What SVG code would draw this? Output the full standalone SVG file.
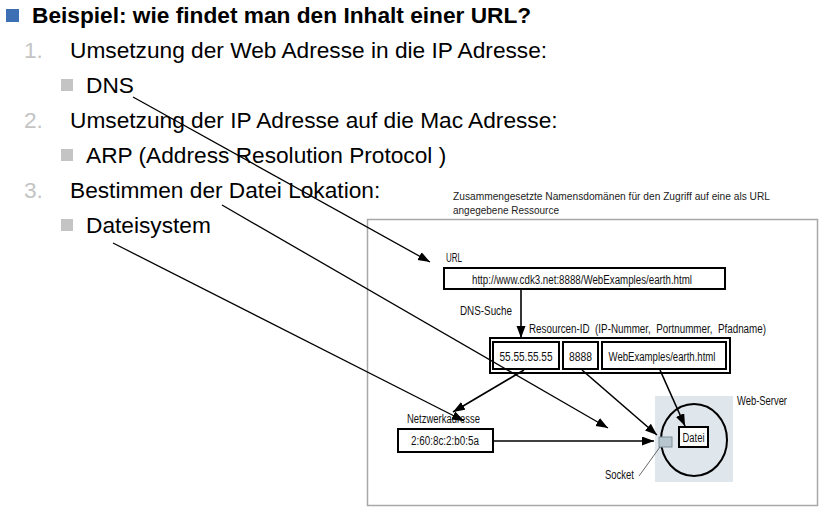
<svg xmlns="http://www.w3.org/2000/svg" width="824" height="512" viewBox="0 0 824 512">
<style>
.body{font-family:"Liberation Sans",Arial,sans-serif;font-size:22.7px;fill:#000}
.title{font-family:"Liberation Sans",Arial,sans-serif;font-size:22.7px;font-weight:bold;fill:#000}
.num{font-family:"Liberation Sans",Arial,sans-serif;font-size:22.7px;fill:#c4c4c4}
.bul{fill:#c4c4c4}
.d{font-family:"Liberation Sans",Arial,sans-serif;font-size:12px;fill:#111}
.dc{font-family:"Liberation Sans",Arial,sans-serif;font-size:10.5px;fill:#222}
.box{fill:#fff;stroke:#000;stroke-width:2}
.conn{stroke:#000;stroke-width:1.6;fill:none}
.ov{stroke:#000;stroke-width:1.3;fill:none}
</style>
<defs>
<marker id="ah" markerUnits="userSpaceOnUse" markerWidth="13" markerHeight="10" refX="12" refY="4.5" orient="auto">
<path d="M0,0 L12,4.5 L0,9 z" fill="#000"/>
</marker>
</defs>
<rect width="824" height="512" fill="#fff"/>

<g id="slide-text">
<rect x="6" y="9" width="13" height="13" fill="#3d6fb4"/>
<text class="title" x="32" y="22.5">Beispiel: wie findet man den Inhalt einer URL?</text>
<text class="num" x="24" y="57.7">1.</text>
<text class="body" x="70" y="57.7">Umsetzung der Web Adresse in die IP Adresse:</text>
<rect class="bul" x="61" y="79" width="12" height="12"/>
<text class="body" x="86" y="92.8">DNS</text>
<text class="num" x="24" y="128">2.</text>
<text class="body" x="70" y="128">Umsetzung der IP Adresse auf die Mac Adresse:</text>
<rect class="bul" x="61" y="149" width="12" height="12"/>
<text class="body" x="86" y="163.1">ARP (Address Resolution Protocol )</text>
<text class="num" x="24" y="198.3">3.</text>
<text class="body" x="70" y="198.3">Bestimmen der Datei Lokation:</text>
<rect class="bul" x="61" y="219" width="12" height="12"/>
<text class="body" x="86" y="233.4">Dateisystem</text>
</g>

<g id="figure-caption">
<text class="dc" x="453" y="200" textLength="317" lengthAdjust="spacingAndGlyphs">Zusammengesetzte Namensdomänen für den Zugriff auf eine als URL</text>
<text class="dc" x="453" y="214" textLength="106" lengthAdjust="spacingAndGlyphs">angegebene Ressource</text>
</g>

<g id="frame">
<rect x="367.5" y="219.5" width="450" height="286" fill="none" stroke="#a8a8a8" stroke-width="1.5"/>
</g>

<g id="webserver">
<rect x="655" y="396" width="78" height="86" fill="#dfe6ec"/>
<ellipse cx="694" cy="440" rx="33" ry="36" fill="none" stroke="#000" stroke-width="2"/>
<text class="d" x="737" y="405" textLength="50" lengthAdjust="spacingAndGlyphs">Web-Server</text>
</g>

<g id="datei">
<rect class="box" x="679" y="427" width="29" height="20"/>
<text class="d" x="693.5" y="441.5" text-anchor="middle" textLength="22" lengthAdjust="spacingAndGlyphs">Datei</text>
</g>

<g id="socket">
<rect x="659" y="437" width="13" height="10" fill="#b8c6cf" stroke="#7f8f98" stroke-width="1"/>
<line x1="639" y1="476" x2="660" y2="447" stroke="#444" stroke-width="0.8"/>
<text class="d" x="605" y="479" textLength="29" lengthAdjust="spacingAndGlyphs">Socket</text>
</g>

<g id="url">
<text class="d" x="446" y="262" textLength="16" lengthAdjust="spacingAndGlyphs">URL</text>
<rect class="box" x="444" y="268" width="281" height="21"/>
<text class="d" x="582" y="283.5" text-anchor="middle" textLength="220" lengthAdjust="spacingAndGlyphs">http://www.cdk3.net:8888/WebExamples/earth.html</text>
</g>

<g id="dns-label">
<text class="d" x="460" y="315" textLength="52" lengthAdjust="spacingAndGlyphs">DNS-Suche</text>
</g>

<g id="resource-id">
<text class="d" x="529" y="333" textLength="237" lengthAdjust="spacingAndGlyphs" xml:space="preserve">Resourcen-ID  (IP-Nummer,  Portnummer,  Pfadname)</text>
<rect class="box" x="490" y="338" width="240" height="35"/>
<rect class="box" x="493" y="342" width="66" height="27"/>
<rect class="box" x="563" y="342" width="35" height="27"/>
<rect class="box" x="602" y="342" width="124" height="27"/>
<text class="d" x="526" y="360.5" text-anchor="middle" textLength="53" lengthAdjust="spacingAndGlyphs">55.55.55.55</text>
<text class="d" x="580.5" y="360.5" text-anchor="middle" textLength="23" lengthAdjust="spacingAndGlyphs">8888</text>
<text class="d" x="662" y="360.5" text-anchor="middle" textLength="107" lengthAdjust="spacingAndGlyphs">WebExamples/earth.html</text>
</g>

<g id="netzwerkadresse">
<text class="d" x="407" y="423" textLength="73" lengthAdjust="spacingAndGlyphs">Netzwerkadresse</text>
<rect class="box" x="398" y="429" width="95" height="23"/>
<text class="d" x="445" y="445" text-anchor="middle" textLength="68" lengthAdjust="spacingAndGlyphs">2:60:8c:2:b0:5a</text>
</g>

<g id="connectors">
<line class="conn" x1="521" y1="289" x2="521" y2="338" marker-end="url(#ah)"/>
<line class="conn" x1="524" y1="370" x2="453" y2="412" marker-end="url(#ah)"/>
<line class="conn" x1="582" y1="370" x2="657" y2="435" marker-end="url(#ah)"/>
<line class="conn" x1="660" y1="370" x2="685" y2="426" marker-end="url(#ah)"/>
<line class="conn" x1="493" y1="441" x2="654" y2="441" marker-end="url(#ah)"/>
<line class="ov" x1="133" y1="97" x2="430" y2="262" marker-end="url(#ah)"/>
<line class="ov" x1="222" y1="205" x2="608" y2="428" marker-end="url(#ah)"/>
<line class="ov" x1="113" y1="243" x2="464" y2="421" marker-end="url(#ah)"/>
</g>
</svg>
